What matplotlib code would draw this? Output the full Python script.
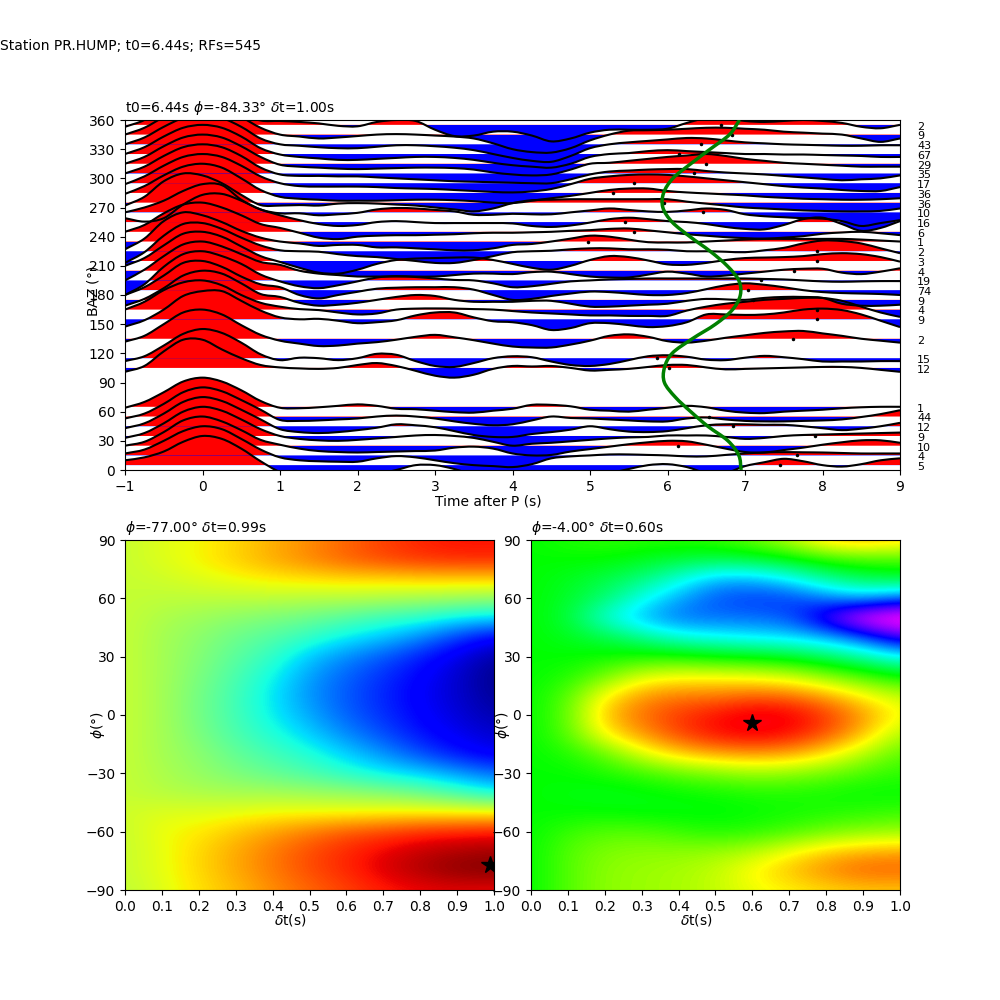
import numpy as np
import matplotlib
matplotlib.use("Agg")
import matplotlib.pyplot as plt
from matplotlib.gridspec import GridSpec
from matplotlib.patches import PathPatch, Rectangle
from matplotlib.path import Path

# trace samples every 0.25 s from -1 to 9, amplitude in BAZ degrees
times = np.arange(-1, 9.25, 0.25)

tr005 = [5,8,14,24,30,27,17,4,-7, -11,-13,-12,-11, -9,-5,0,0, -4,-10,-12,-13, -12,-12,-11,-10, -8,-4,0,1, -2,-8,-8,-1, 3,6.5,4,0, -1.5,1,5,7]
tr015 = [2,6,15,25,30,27,17,6,-2, -5,-6,-6.5,-6.5, -3,-0.7,-2,-5, -8,-10,-11,-12, -9,-3,-1,0, 1,1,0.5,0, -1,-1,0.5,2, 3,3.4,3.2,3, 2.5,2,2,2]
tr025 = [0,4,14,26,30,25,16,6,1, -3,-5.5,-6.5,-7, -6.5,-6,-5.5,-5, -2,-1,-3,-8, -10,-9.5,-6,-3.5, -1,1.5,3.5,5, 4.5,1,-3,-6.5, -7,-4.5,-2,1, 3.5,5.5,5.5,3]
tr035 = [-2,3,13,25,30,26,17,7,0, -3,-4.5,-5,-4, -2.5,-1,0.5,1, 0,-2,-6,-10, -8,-7,-5.5,-4, -2.5,-1.5,-1,0.5, 0.5,0.5,-1,-3, -2,0,1,1.5, 2,2.5,3,3.5]
tr045 = [-2,3,13,25,30,26,17,7,-3, -6,-7,-6,-4, -1.5,2,1,-1, -5,-9,-11,-11, -8,-6,-3.5,0, -3,-5.5,-6,-5, -2,1,2,2, 1.5,1.5,0,-2, -4,-2.5,0,3.5]
tr055 = [-2,3,13,25,30,26,17,7,-3.5, -4.5,-4,-3,-2, 0,1,0,-2, -5,-7.5,-9,-8, -4,0,-1.5,-2, -3,-4,-5,-5, -2,-1,-3,-4.5, -5,-5,-4.5,-4, -3,-0.5,2.5,6.5]
tr065 = [-1,5,15,26,30,26,17,6,-1, -1.5,-0.5,1,2.5, 1,-2,-2.5,-4, -5.5,-6,-4,-2, 2,2,0.5,-3, -4,-5,-3,-1, 1,-0.5,-4,-6, -6.5,-5,-4,-3, -1.5,-0.5,0,0]
tr105 = [-4,2,17,29,29,19,10,3,0.5, -0.5,-1,0,3, 5,2,-3,-8, -10,-7,-1,2, 1.5,2,0,-2.7, -2,-1,1,3, 3,0.5,-1.5,-1, -0.5,0,0.5,1, 1,0,-2,-4]
tr115 = [-3,2,13,25,30,26,16,4,-2, 0.5,0,-2,0, 4.5,3.5,-3,-8, -9,-5,0,2, 1,-3.4,-7,-8, -6,-2,2,3, 1.5,-1.5,-2,0.5, 2.4,1,-1,-3.4, -3.4,-3.4,-3,-3]
tr135 = [-3,3,15,27,30,25,14,4,-2, -5,-7.5,-7,-5, -3.5,-1,2,4, 1.5,-1.5,-5,-8, -9,-9,-6,-2, 3,4.5,2,-2.5, -4,-2,1,3.5, 6,7.5,8,5.5, 3,0,-2,-4]
tr155 = [-7.5,-1,10,24,29,29,19,9,2, 0,0.5,-1.5,-4, -3,-1,4,7, 7,2,-2,-3, -6,-11,-9,-4, -4,-6,-8,-7, -3,5,5,4.5, 5,7,10,11, 9.5,5,-1.5,-8]
tr165 = [0,8,20,28,30,25,15,7,3, 0.5,-0.5,-3,-5, -4,0,1,1.2, 1,0.5,0,-1.5, -3,-4,-5,-6, -6,-6.5,-6.5,-6.5, -1,3,6,8, 10,11,12,12, 9,3,-3,-7.5]
tr175 = [-6,1,12,25,30,27,17,6,3, -3,-6,-5,-3, 0,3,5,4, 0,-2,-2,-2, -1,-1,-4,-7, -7,-6,-5,-4, -1,1,0.5,0, 2,3,3,2, -4,-6,-6,-5]
tr185 = [-5,3,15,28,30,24,14,6,3, -5,-8.5,-5,-1.7, 1.5,2.5,3,3, 3,0.5,-5,-10, -9,-6,-3.5,-1.5, -2,-3.5,-5,-5, -3,1,5,7, 5.5,3,0,-2, -3,-3.5,-4,-5]
tr195 = [-15,-4,14,27,30,25,17,6,-1, -6,-8,-5,-1, 3,4.5,3.5,2, 0.5,0,-3,-7, -6,-3.5,-1,0, 1,1.5,2,2, 2,2,2,2, 1.5,1,0,-1, -1.4,-1,-0.7,-0.7]
tr205 = [-10,1,15,27,30,25,17,9,6, 0,-3,-4.5,-6, -6,-6,-6,-6, -4.5,-3,-3,-3.5, -1.5,-1,-3.5,-6, -7,-7,-4,-1, -3,-6,-5,-3, -1,1,2,2, -2,-3.5,-1,2.5]
tr215 = [-5,3,16,28,30,25,15,5,-1, -7,-12,-13,-9, -3,1,2.5,3, 3.5,3.5,1,-3, -7,-9,-5,1, 5,4,0.5,-3.5, -4,-2,1,3, 3.5,4,5,7, 8,7,4,-0.7]
tr225 = [-12,-1,16,28,29,23,14,6,1, 0,-0.5,-3,-5, -6,-8,-10,-12, -12,-9,-5,-1, 0,0.5,2,3, 3,2,2,1.5, 0,0,-0.5,-1, 1,3.5,8,11, 10.5,8,3,-2]
tr235 = [-8,3,21,30,27,20,11,4,0, -2,-4.5,-3.5,-3.5, -6,-6,-7,-8, -9,-9,-7,-3.5, -2.5,0,3,6, 5,2,-0.7,-1, -1,0,1,2, 2.7,2.7,2.7,2.7, 2.7,2,1,0]
tr245 = [0,7,19,28,30,25,17,8,4, -1,-6,-7.5,-5, -4,-3.5,-3.5,-3, -2.5,-1.5,-1,-1, -0.5,0,1,1.7, 3,3.4,1.5,-0.5, -2.5,-4,-5.5,-6.5, -7,-6,-4.5,-2, -0.7,0,-1.5,-3.4]
tr255 = [4,0.5,4,18,28,29,22,13,7, 2,-2,-4,-3, 0,1,0,-1, -1,-1,-1,-1.4, -4,-5,-3.5,-0.5, 3,4.5,3,1, 0,-2,-5,-7, -7.5,-3,3,4.5, -2,-9,-6,1]
tr265 = [0,5,12,22,29,28,13,3,-1, -1,-3,-2,-0.5, 3,4.5,4,2.5, 1,-2.5,-2.5,-1.5, -2,-2,0,2, 4,2.5,1,0.5, 2,4,2.5,-2, -4,-5,-6,-6.5, -9,-14,-11,-8]
tr275 = [-3,6,22,30,28,20,8,-2.5,-3, -2.5,-3,-1,-0.5, -1,-2,-3,-5, -7,-9,-6,-0.5, 2.5,3,3.5,3.5, 3.5,3.5,3.5,3.5, 1,-1,-3,-5, -6,-7,-8,-8.5, -9,-9,-8.5,-6]
tr285 = [-1,7,18,27,30,26,15,3,-4, -6,-7,-8,-8, -8,-7.5,-7,-7, -7.5,-8.5,-10,-10.5, -8,-5.5,-3,0, 3,4.5,4.5,2, 0.5,-0.5,-1.5,-2.5, -4,-5,-6,-6.5, -7,-7,-6.5,-5.5]
tr295 = [-1,7,18,27,30,27,18,7,0, -3,-3.5,-3.5,-3.5, -4,-5,-5.5,-6, -7,-8,-9,-9.5, -8.5,-6,-1,4.5, 7,8.5,9,8.5, 7,5,3,1, -1,-3,-4.5,-5.5, -7,-8,-8,-4]
tr305 = [0,7,18,27,30,27,18,6,-1, -2.5,-2.5,-3,-3, -4,-5,-6,-7, -8,-8.5,-9,-9.5, -10,-10,-6,-1, 2,3,4,4.5, 4.5,2.5,1,0, -1,-2.5,-4,-5.5, -7,-6,-5,-2]
tr315 = [0,7,18,27,30,27,18,7,-1, -3,-4,-5,-5.5, -5,-4.5,-4,-4, -4.5,-6,-9,-11, -12,-11,-6,0, 1,3,5,7, 8.5,10,8,5, 3,1,0,-1, -2,-3,-3,-3]
tr325 = [0,7,18,27,30,27,18,6,-0.5, -3,-4.5,-6,-6, -5,-4,-3,-3, -4,-6,-9,-11.5, -13,-14,-10,-3, 0,1,3,4, 3,2,1,0, 0,-0.5,-0.5,-1, -1.5,-2,-3,-3]
tr335 = [0,7,18,27,30,27,18,6,0, -1.5,-3,-4,-4, -2.5,-1,-1,-2, -3.5,-6,-10,-14, -17,-18,-12,-4, 0,2,3.5,5, 6.5,6,4,2, 1,0,-0.5,-1, -1.5,-1.5,-1,-1]
tr345 = [0,7,18,27,30,27,18,7,0, -2,-4,-3,-1.5, 0,0.5,0,-1, -2,-4,-9,-15, -18,-18.5,-14,-6, 0,4,4.5,5, 6,7,7,6, 5,3,2,1, 0,-4,-7.5,-4]
tr355 = [-2,5,18,27,30,27,12,4.5,4, 3,1.5,-1,-1.5, 3,5,4,-5, -11.5,-11,-7,-7, -11,-17,-14,-8, -5,-5,-5,-4, 2,7,7,4, 3,4,5,4, 2,-2,-3.5,0]

baz_bins = [5, 15, 25, 35, 45, 55, 65, 105, 115, 135, 155, 165, 175, 185, 195, 205, 215, 225,
            235, 245, 255, 265, 275, 285, 295, 305, 315, 325, 335, 345, 355]
traces = [tr005, tr015, tr025, tr035, tr045, tr055, tr065, tr105, tr115, tr135, tr155, tr165, tr175, tr185, tr195, tr205, tr215, tr225,
          tr235, tr245, tr255, tr265, tr275, tr285, tr295, tr305, tr315, tr325, tr335, tr345, tr355]
rf_counts = [5, 4, 10, 9, 12, 44, 1, 12, 15, 2, 9, 4, 9, 74, 19, 4, 3, 2, 1, 6, 16, 10, 36, 36, 17, 35, 29, 67, 43, 9, 2]

# black dots, one per trace
dot_times = [7.45, 7.67, 6.13, 7.9, 6.84, 6.54, 6.24, 6.02, 5.87, 7.62, 7.93, 7.93, 7.1, 7.04, 7.2, 7.63, 7.93, 7.93,
             4.97, 5.57, 5.45, 6.46, 5.96, 5.3, 5.57, 6.34, 6.5, 6.15, 6.43, 6.83, 6.69]

# green curve
curve_baz = [0, 15, 30, 45, 60, 75, 90, 105, 120, 135, 150, 165, 180, 195, 210, 225, 240, 255, 270, 285, 300, 315, 330, 345, 360]
curve_t = [6.95, 6.92, 6.78, 6.52, 6.3, 6.1, 5.96, 5.96, 6.06, 6.32, 6.62, 6.84, 6.94, 6.92, 6.77, 6.55, 6.29, 6.06, 5.94, 5.95, 6.07, 6.3, 6.55, 6.8, 6.93]

# misfit grids, rows are phi 90 to -90, columns dt 0 to 1
dt_grid = np.arange(0, 1.05, 0.1)

grid_left = np.array([
    [.59,.62,.645,.68,.72,.76,.80,.84,.87,.89,.89],
    [.59,.62,.65,.69,.73,.77,.81,.84,.86,.87,.87],
    [.59,.60,.62,.64,.66,.67,.68,.68,.69,.69,.69],
    [.59,.58,.58,.58,.58,.57,.57,.56,.55,.54,.53],
    [.59,.56,.54,.52,.50,.48,.45,.42,.40,.36,.34],
    [.59,.55,.52,.48,.45,.41,.36,.32,.26,.18,.11],
    [.59,.55,.51,.46,.41,.32,.26,.21,.15,.09,.03],
    [.59,.55,.50,.44,.37,.28,.22,.17,.12,.07,.01],
    [.59,.55,.49,.43,.35,.27,.21,.16,.11,.07,.02],
    [.59,.55,.49,.43,.36,.29,.22,.17,.12,.08,.04],
    [.59,.55,.50,.44,.39,.33,.26,.20,.14,.10,.07],
    [.59,.55,.52,.47,.43,.39,.33,.27,.20,.14,.10],
    [.59,.56,.53,.50,.47,.44,.40,.36,.33,.28,.23],
    [.59,.57,.56,.55,.55,.54,.53,.51,.48,.43,.37],
    [.60,.62,.62,.63,.64,.64,.64,.65,.65,.65,.65],
    [.59,.64,.66,.70,.74,.78,.82,.84,.87,.88,.89],
    [.59,.63,.68,.73,.78,.83,.87,.91,.94,.96,.97],
    [.59,.63,.68,.73,.78,.83,.87,.92,.96,.99,1.0],
    [.58,.62,.67,.71,.76,.80,.84,.88,.90,.91,.90],
])

grid_right = np.array([
    [.60,.62,.63,.63,.63,.64,.68,.74,.83,.85,.82],
    [.60,.60,.60,.58,.56,.55,.56,.59,.63,.65,.65],
    [.60,.58,.55,.51,.44,.36,.36,.41,.49,.54,.56],
    [.60,.57,.52,.43,.35,.29,.27,.27,.32,.36,.30],
    [.60,.56,.44,.36,.31,.31,.31,.29,.17,.03,.0],
    [.60,.58,.55,.50,.44,.42,.40,.39,.36,.29,.17],
    [.60,.60,.61,.62,.62,.60,.59,.57,.53,.48,.42],
    [.60,.62,.68,.76,.78,.78,.77,.75,.70,.65,.60],
    [.60,.66,.79,.86,.88,.88,.90,.89,.85,.79,.74],
    [.60,.67,.83,.89,.93,.96,.99,.98,.93,.86,.78],
    [.60,.66,.79,.86,.92,.96,.98,.96,.91,.83,.72],
    [.60,.62,.67,.76,.82,.85,.86,.85,.80,.73,.66],
    [.60,.60,.62,.64,.67,.69,.71,.70,.68,.65,.63],
    [.60,.59,.58,.59,.60,.61,.62,.62,.61,.60,.60],
    [.60,.60,.60,.59,.59,.59,.60,.61,.62,.63,.64],
    [.60,.64,.66,.66,.64,.62,.63,.65,.68,.70,.71],
    [.60,.66,.69,.70,.70,.71,.73,.78,.82,.84,.85],
    [.60,.66,.70,.71,.72,.74,.79,.83,.87,.90,.90],
    [.60,.66,.70,.71,.72,.74,.77,.79,.81,.82,.82],
])


def smooth_curve(x, y):
    # bezier segments through the read samples
    x = np.asarray(x, dtype=float)
    y = np.asarray(y, dtype=float)
    dx = np.gradient(x)
    dy = np.gradient(y)
    verts = [(x[0], y[0])]
    for i in range(len(x) - 1):
        verts.append((x[i] + dx[i] / 3, y[i] + dy[i] / 3))
        verts.append((x[i + 1] - dx[i + 1] / 3, y[i + 1] - dy[i + 1] / 3))
        verts.append((x[i + 1], y[i + 1]))
    return verts


def draw_line(ax, verts, color, lw, zorder):
    codes = [Path.MOVETO] + [Path.CURVE4] * (len(verts) - 1)
    ax.add_patch(PathPatch(Path(verts, codes), fc="none", ec=color, lw=lw, zorder=zorder))


def draw_trace(ax, baz, amp):
    verts = smooth_curve(times, baz + np.array(amp))
    closed = verts + [(times[-1], baz), (times[0], baz), (times[0], baz)]
    codes = [Path.MOVETO] + [Path.CURVE4] * (len(verts) - 1) + [Path.LINETO, Path.LINETO, Path.CLOSEPOLY]
    up = PathPatch(Path(closed, codes), fc="red", lw=0, zorder=1)
    down = PathPatch(Path(closed, codes), fc="blue", lw=0, zorder=1)
    ax.add_patch(up)
    ax.add_patch(down)
    up.set_clip_path(Rectangle((-1, baz), 10, 360 - baz, transform=ax.transData))
    down.set_clip_path(Rectangle((-1, 0), 10, baz, transform=ax.transData))
    draw_line(ax, verts, "black", 1.5, 2)


def draw_grid(ax, grid, cmap, best_dt, best_phi, title):
    ax.imshow(grid, cmap=cmap, vmin=0, vmax=1, aspect="auto", interpolation="bicubic",
              interpolation_stage="data", extent=[-0.05, 1.05, -95, 95])
    ax.plot(best_dt, best_phi, "k*", ms=13)
    ax.set_xlim(0, 1)
    ax.set_ylim(-90, 90)
    ax.set_xticks(dt_grid)
    ax.set_yticks(np.arange(-90, 91, 30))
    ax.set_xlabel(r"$\delta$t(s)")
    ax.xaxis.set_label_coords(0.447, -0.063)
    ax.set_ylabel(r"$\phi$($\degree$)")
    ax.yaxis.set_label_coords(-0.05, 0.471)
    ax.set_title(title, loc="left", fontsize=10)


fig = plt.figure(figsize=(10, 10), dpi=100)
gs = GridSpec(2, 2, figure=fig, wspace=0.1)
ax1 = fig.add_subplot(gs[0, :])
ax2 = fig.add_subplot(gs[1, 0])
ax3 = fig.add_subplot(gs[1, 1])

fig.text(0, 0.95, "Station PR.HUMP; t0=6.44s; RFs=545", fontsize=10)

for baz, amp, count, dot in zip(baz_bins, traces, rf_counts, dot_times):
    draw_trace(ax1, baz, amp)
    ax1.plot(dot, baz, "k.", ms=3, zorder=3)
    ax1.text(9.22, baz - 5, str(count), fontsize=8)

draw_line(ax1, smooth_curve(curve_t, curve_baz), "green", 2.5, 4)
ax1.set_xlim(-1, 9)
ax1.set_ylim(0, 360)
ax1.set_xticks(np.arange(-1, 10))
ax1.set_yticks(np.arange(0, 361, 30))
ax1.set_xlabel("Time after P (s)")
ax1.xaxis.set_label_coords(0.469, -0.0686)
ax1.set_ylabel(r"BAZ ($\degree$)")
ax1.yaxis.set_label_coords(-0.031, 0.511)
ax1.set_title(r"t0=6.44s $\phi$=-84.33$\degree$ $\delta$t=1.00s", loc="left", fontsize=10)

draw_grid(ax2, grid_left, "jet", 0.99, -77, r"$\phi$=-77.00$\degree$ $\delta$t=0.99s")
draw_grid(ax3, grid_right, "gist_rainbow_r", 0.60, -4, r"$\phi$=-4.00$\degree$ $\delta$t=0.60s")

fig.savefig("out.png")
